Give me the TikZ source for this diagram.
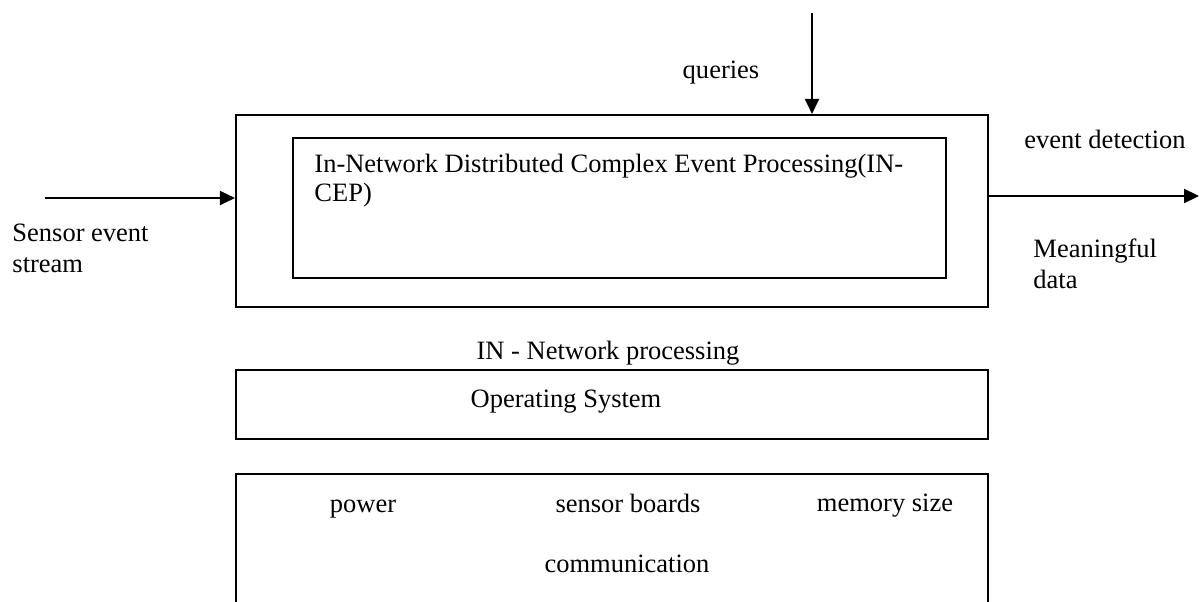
\documentclass[tikz,border=0pt]{standalone}
\usepackage{fontspec}
\setmainfont{Liberation Serif}
\usetikzlibrary{positioning,arrows.meta}

\begin{document}
\begin{tikzpicture}[
  x=0.01592cm, y=-0.01592cm,
  font=\fontsize{12}{13.6}\selectfont,
  layer/.style={draw,line width=1pt,minimum width=340.5pt,inner sep=0pt},
  txt/.style={inner sep=0pt,anchor=base},
  txtl/.style={inner sep=0pt,anchor=base west,align=left},
  arr/.style={line width=0.75pt,-{Triangle[length=6.8pt,width=6.4pt]}}
]
\useasboundingbox (0,0) rectangle (1199,601);

\node[layer,minimum height=86.9pt] (ncep) at (612,211) {};
\node[draw,line width=0.75pt,minimum width=295.7pt,minimum height=63.4pt] (cep) at (619.5,208) {};
\node[layer,minimum height=31.2pt] (os) at (612,404.5) {};
\node[layer,minimum height=77.9pt] (hw) at (612,560) {};

\node[txtl,font=\fontsize{12}{12.7}\selectfont] (ceptxt) at (314,201) {In-Network Distributed Complex Event Processing(IN-\\CEP)};
\node[txt] (inproc) at (608,359) {IN - Network processing};
\node[txt] (ostxt) at (566,407) {Operating System};
\node[txt] (power) at (363,512) {power};
\node[txt] (boards) at (628,512) {sensor boards};
\node[txt] (mem) at (885,511) {memory size};
\node[txt] (comm) at (627,572) {communication};

\node[txt] (qtxt) at (721,78) {queries};
\node[txtl] (sensor) at (12,272) {Sensor event\\stream};
\node[txtl] (detect) at (1024,148) {event detection};
\node[txtl] (mdata) at (1033,288) {Meaningful\\data};

\coordinate (src) at (45,198);
\coordinate (qsrc) at (812,13);
\coordinate (dst) at (1199,196);

\path (src) edge[arr] (src -| ncep.west)
(qsrc) edge[arr] (qsrc |- ncep.north)
(dst -| ncep.east) edge[arr] (dst);

\end{tikzpicture}
\end{document}
